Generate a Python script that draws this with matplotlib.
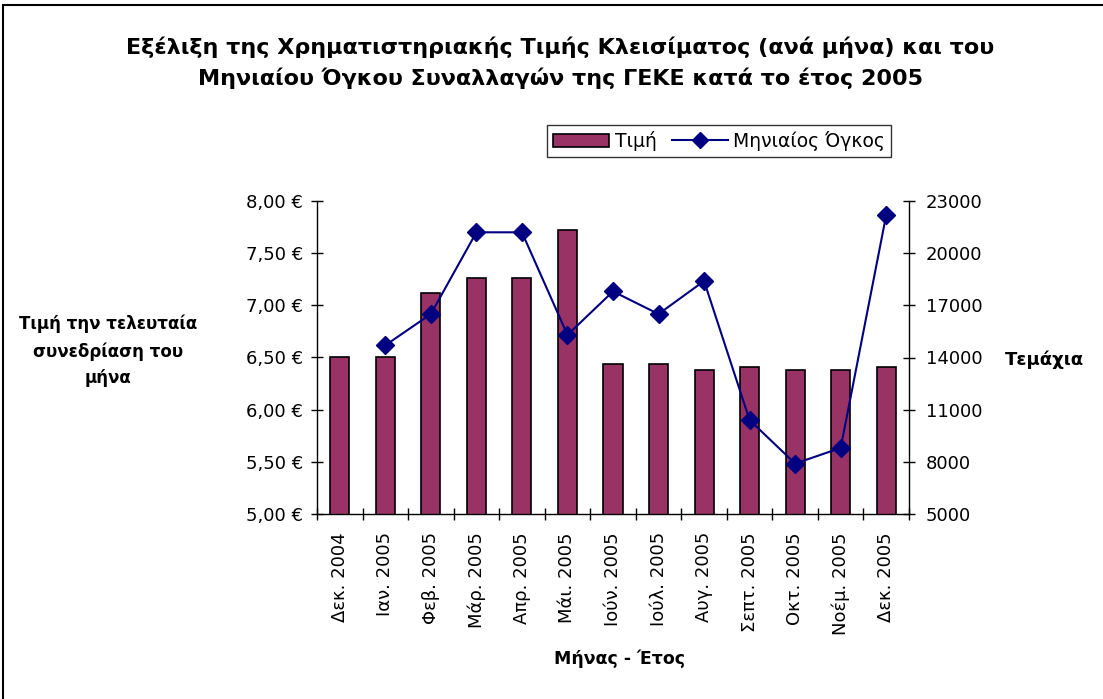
import matplotlib
matplotlib.use("Agg")
import matplotlib.pyplot as plt
from matplotlib.patches import Rectangle
from matplotlib.lines import Line2D
from matplotlib.patches import Patch

plt.rcParams['font.family'] = ['DejaVu Sans']

months = ["Δεκ. 2004", "Ιαν. 2005", "Φεβ. 2005", "Μάρ. 2005", "Απρ. 2005", "Μάι. 2005",
          "Ιούν. 2005", "Ιούλ. 2005", "Αυγ. 2005", "Σεπτ. 2005", "Οκτ. 2005", "Νοέμ. 2005",
          "Δεκ. 2005"]
price = [6.50, 6.50, 7.12, 7.26, 7.26, 7.72, 6.44, 6.44, 6.38, 6.41, 6.38, 6.38, 6.41]
volume = [None, 14700, 16500, 21200, 21200, 15300, 17800, 16500, 18400, 10400, 7900, 8800, 22200]
price_ticks = [5.00, 5.50, 6.00, 6.50, 7.00, 7.50, 8.00]
volume_ticks = [5000, 8000, 11000, 14000, 17000, 20000, 23000]

W, H = 1103, 699
fig = plt.figure(figsize=(W / 100, H / 100), dpi=100)
fig.patch.set_facecolor('white')

# chart frame
fig.add_artist(Rectangle((3 / W, -0.1), 1.2, 1 - 5 / H + 0.1, transform=fig.transFigure,
                         fill=False, edgecolor='black', linewidth=1.5))

ax = fig.add_axes([317 / W, 1 - 514 / H, (909 - 317) / W, (514 - 201) / H])
x = list(range(len(months)))
ax.bar(x, price, width=0.42, color='#993366', edgecolor='black', linewidth=1.2, zorder=2)
ax.set_xlim(-0.5, len(months) - 0.5)
ax.set_ylim(5.0, 8.0)
ax.set_yticks(price_ticks)
ax.set_yticklabels([f"{v:.2f}".replace('.', ',') + " €" for v in price_ticks], fontsize=13)
ax.set_xticks(x)
ax.set_xticklabels(months, rotation=90, fontsize=13)
ax.set_xticks([i - 0.5 for i in range(len(months) + 1)], minor=True)
ax.tick_params(axis='x', which='major', length=0, pad=13)
ax.tick_params(axis='x', which='minor', length=8, direction='inout', width=1)
ax.tick_params(axis='y', length=8, direction='inout', width=1, pad=6)
for s in ['top', 'right']:
    ax.spines[s].set_visible(False)
ax.spines['left'].set_linewidth(1)
ax.spines['bottom'].set_linewidth(1)

ax2 = ax.twinx()
xv = [i for i, v in enumerate(volume) if v is not None]
yv = [v for v in volume if v is not None]
ax2.plot(xv, yv, color='#000080', linewidth=1.5, marker='D', markersize=9, zorder=3)
ax2.set_ylim(5000, 23000)
ax2.set_yticks(volume_ticks)
ax2.set_yticklabels([str(v) for v in volume_ticks], fontsize=13)
ax2.tick_params(axis='y', length=8, direction='inout', width=1, pad=8)
for s in ['top', 'left', 'bottom']:
    ax2.spines[s].set_visible(False)
ax2.spines['right'].set_linewidth(1)

fig.text(560 / W, 1 - 47 / H, "Εξέλιξη της Χρηματιστηριακής Τιμής Κλεισίματος (ανά μήνα) και του",
         ha='center', va='center', fontsize=16, fontweight='bold')
fig.text(560 / W, 1 - 78 / H, "Μηνιαίου Όγκου Συναλλαγών της ΓΕΚΕ κατά το έτος 2005",
         ha='center', va='center', fontsize=16, fontweight='bold')

fig.text(108 / W, 1 - 351 / H, "Τιμή την τελευταία\nσυνεδρίαση του\nμήνα",
         ha='center', va='center', fontsize=12, fontweight='bold', linespacing=1.6)
fig.text(1044 / W, 1 - 360 / H, "Τεμάχια", ha='center', va='center', fontsize=13, fontweight='bold')
fig.text(620 / W, 1 - 659 / H, "Μήνας - Έτος", ha='center', va='center', fontsize=12.5, fontweight='bold')

handles = [Patch(facecolor='#993366', edgecolor='black', linewidth=1.2),
           Line2D([0], [0], color='#000080', linewidth=1.5, marker='D', markersize=8)]
leg = fig.legend(handles, ["Τιμή", "Μηνιαίος Όγκος"], loc='center',
                 bbox_to_anchor=(719 / W, 1 - 141 / H), ncol=2, fontsize=13.5,
                 frameon=True, fancybox=False, edgecolor='black', borderpad=0.3,
                 handlelength=3.0, handletextpad=0.3, columnspacing=0.8, handleheight=0.7)
leg.get_frame().set_linewidth(1)

fig.savefig("out.png", dpi=100)
